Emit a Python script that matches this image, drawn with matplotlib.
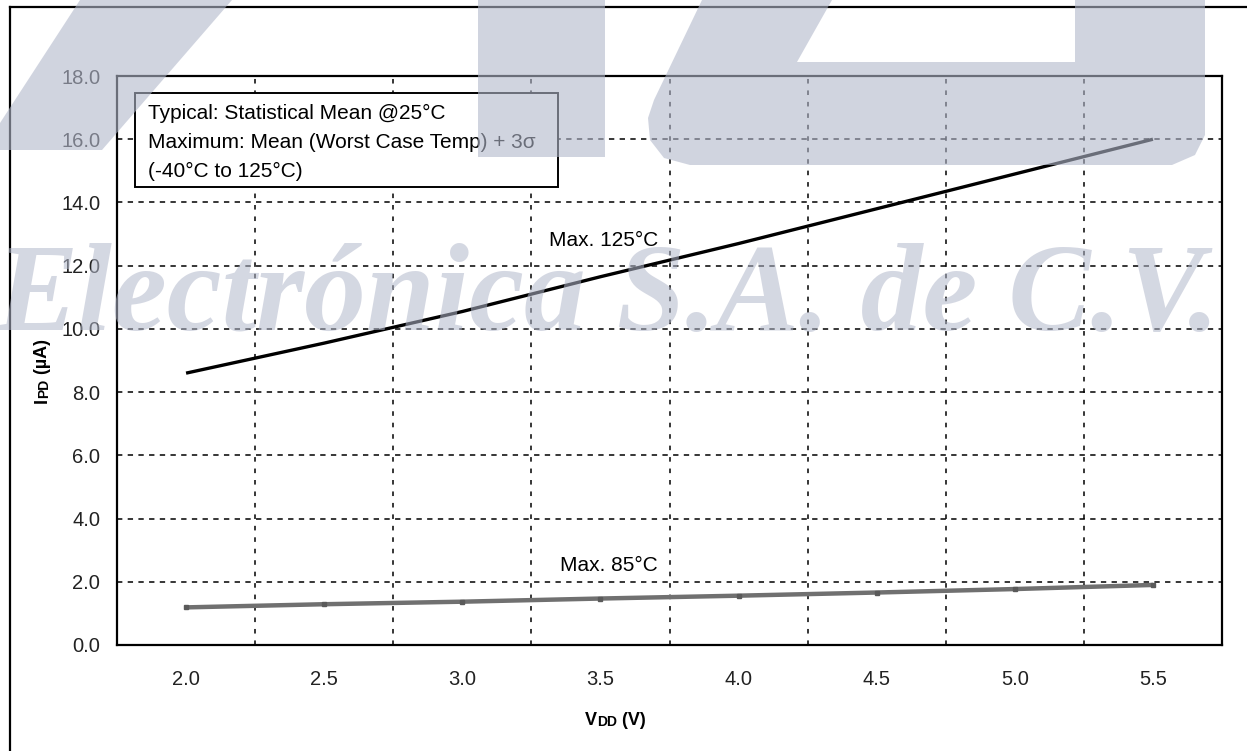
import numpy as np
import matplotlib.pyplot as plt
from matplotlib.patches import Polygon, Rectangle
from matplotlib.lines import Line2D

plt.rcParams['font.family'] = ['Liberation Sans', 'DejaVu Sans']

# data
vdd = [2.0, 2.5, 3.0, 3.5, 4.0, 4.5, 5.0, 5.5]
ipd_125 = [8.6, 9.55, 10.55, 11.65, 12.7, 13.8, 14.9, 16.0]
ipd_85 = [1.19, 1.29, 1.37, 1.47, 1.56, 1.66, 1.77, 1.90]
yticks = [0, 2, 4, 6, 8, 10, 12, 14, 16, 18]
xticks = [2.0, 2.5, 3.0, 3.5, 4.0, 4.5, 5.0, 5.5]
xgrid = [2.25, 2.75, 3.25, 3.75, 4.25, 4.75, 5.25]
note = ['Typical: Statistical Mean @25°C',
        'Maximum: Mean (Worst Case Temp) + 3σ',
        '(-40°C to 125°C)']

W, H = 1247, 751
def px(x, y):
    return (x / W, 1 - y / H)

fig = plt.figure(figsize=(W / 100, H / 100), dpi=100)
ax = fig.add_axes([117 / W, 1 - 645 / H, (1222 - 117) / W, (645 - 76) / H])

ax.set_xlim(1.75, 5.75)
ax.set_ylim(0, 18)
ax.set_xticks(xticks)
ax.set_xticklabels(['%.1f' % v for v in xticks])
ax.set_yticks(yticks)
ax.set_yticklabels(['%.1f' % v for v in yticks])
ax.tick_params(axis='both', length=0, labelsize=14.5, labelcolor='#222222')
ax.tick_params(axis='x', pad=18)
ax.tick_params(axis='y', pad=12)
for s in ax.spines.values():
    s.set_linewidth(1.6)

# grid
for g in yticks[1:-1]:
    ax.axhline(g, color='black', lw=1.1, ls=(0, (3.5, 3.5)), zorder=1)
for g in xgrid:
    ax.axvline(g, color='black', lw=1.1, ls=(0, (3, 4.5)), zorder=1)

ax.plot(vdd, ipd_85, color='#707070', lw=3.2, marker='s', ms=2.5,
        mfc='#5a5a5a', mec='#5a5a5a', zorder=3, solid_capstyle='butt')
ax.plot(vdd, ipd_125, color='black', lw=2.4, zorder=3, solid_capstyle='butt')

ax.text(3.51, 12.8, 'Max. 125°C', fontsize=15, ha='center', va='center', zorder=4)
ax.text(3.53, 2.53, 'Max. 85°C', fontsize=15, ha='center', va='center', zorder=4)

# note box
ax.add_patch(Rectangle((1.815, 14.49), 3.348 - 1.815, 17.47 - 14.49,
                       facecolor='white', edgecolor='black', lw=1.4, zorder=5))
for i, line in enumerate(note):
    ax.text(1.862, 16.8 - i * 0.915, line, fontsize=15, ha='left', va='center', zorder=6)

# axis labels, smaller letters for the subscripts
t1 = fig.text(585 / W, 1 - 725 / H, 'V', fontsize=13, weight='bold', ha='left', va='baseline')
t2 = ax.annotate('DD', xy=(1, 0), xycoords=t1, fontsize=10, weight='bold', ha='left', va='bottom',
                 annotation_clip=False)
ax.annotate(' (V)', xy=(1, 0), xycoords=t2, fontsize=13, weight='bold', ha='left', va='bottom',
            annotation_clip=False)

y1 = fig.text(51 / W, 1 - 403 / H, 'I', fontsize=13, weight='bold', rotation=90,
              ha='right', va='bottom')
y2 = ax.annotate('PD', xy=(1, 1), xycoords=y1, fontsize=10, weight='bold', rotation=90,
                 ha='right', va='bottom', annotation_clip=False)
ax.annotate(' (µA)', xy=(1, 1), xycoords=y2, fontsize=13, weight='bold', rotation=90,
            ha='right', va='bottom', annotation_clip=False)

# outer frame
fig.add_artist(Line2D([px(10, 7)[0], 1.0], [px(10, 7)[1]] * 2, color='black', lw=1.6))
fig.add_artist(Line2D([px(10, 7)[0]] * 2, [px(10, 7)[1], 0.0], color='black', lw=1.6))

# watermark
wm = (178 / 255, 184 / 255, 203 / 255)
band = [(80, 0), (232, 0), (102, 150), (0, 150), (0, 123)]
bar = [(478, 0), (605, 0), (605, 157), (478, 157)]
cshape = [(702, 0), (832, 0), (797, 62), (1075, 62), (1075, 0), (1205, 0),
          (1205, 135), (1195, 155), (1172, 165), (690, 165), (664, 158),
          (650, 140), (648, 118), (654, 100)]
for shp in (band, bar, cshape):
    fig.add_artist(Polygon([px(x, y) for x, y in shp], closed=True,
                           transform=fig.transFigure, facecolor=wm, edgecolor='none',
                           alpha=0.6, zorder=10))
fig.text(-4 / W, 1 - 330 / H, 'Electrónica S.A. de C.V.', family='Liberation Serif',
         weight='bold', style='italic', fontsize=89, color=wm, alpha=0.55,
         ha='left', va='baseline', zorder=10)

fig.savefig('out.png', dpi=100)
